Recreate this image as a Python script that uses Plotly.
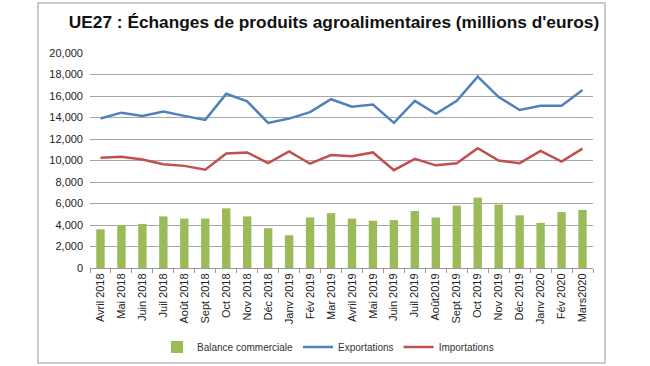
import plotly.graph_objects as go

months = ["Avril 2018", "Mai 2018", "Juin 2018", "Juil 2018", "Août 2018", "Sept 2018",
          "Oct 2018", "Nov 2018", "Déc 2018", "Janv 2019", "Fév 2019", "Mar 2019",
          "Avril 2019", "Mai 2019", "Juin 2019", "Juil 2019", "Août2019", "Sept 2019",
          "Oct 2019", "Nov 2019", "Déc 2019", "Janv 2020", "Fév 2020", "Mars2020"]

balance = [3600, 4000, 4100, 4800, 4600, 4600, 5550, 4800, 3700, 3050, 4700, 5100,
           4600, 4400, 4450, 5300, 4700, 5800, 6550, 5900, 4900, 4200, 5200, 5400]

exportations = [13900, 14450, 14150, 14550, 14150, 13780, 16200, 15500, 13500, 13900, 14500, 15700,
                15000, 15200, 13500, 15550, 14350, 15550, 17800, 15900, 14700, 15100, 15100, 16550]

importations = [10250, 10350, 10100, 9650, 9500, 9150, 10650, 10750, 9750, 10850, 9700, 10500,
                10400, 10750, 9100, 10150, 9550, 9750, 11150, 10000, 9750, 10900, 9900, 11100]

W, H = 650, 366
L, R, T, B = 90, 593, 53, 268

def px_x(p):
    return (p - L) / (R - L)

def px_y(p):
    return (B - p) / (B - T)

fig = go.Figure()
fig.add_trace(go.Bar(x=months, y=balance, name="Balance commerciale",
                     marker=dict(color="#9BBB59", line=dict(width=0))))
fig.add_trace(go.Scatter(x=months, y=exportations, name="Exportations", mode="lines",
                         line=dict(color="#4F81BD", width=2.5)))
fig.add_trace(go.Scatter(x=months, y=importations, name="Importations", mode="lines",
                         line=dict(color="#C0504D", width=2.5)))

fig.update_layout(
    width=W, height=H,
    margin=dict(l=L, r=W - R, t=T, b=H - B, autoexpand=False),
    paper_bgcolor="white", plot_bgcolor="white",
    font=dict(family="Liberation Sans, Arial, sans-serif", color="#222", size=11),
    title=dict(text="<b>UE27 : Échanges de produits agroalimentaires (millions d'euros)</b>",
               x=334 / W, xref="container", xanchor="center",
               y=1 - 22 / H, yref="container", yanchor="middle",
               font=dict(size=17.3, color="#111")),
    bargap=0.6,
    showlegend=True,
    legend=dict(orientation="h", x=px_x(328), xanchor="center", y=px_y(347), yanchor="middle",
                font=dict(size=10, color="#333"), itemwidth=30, tracegroupgap=0,
                bgcolor="rgba(0,0,0,0)"),
    shapes=[dict(type="rect", xref="paper", yref="paper",
                 x0=px_x(38), x1=px_x(605), y0=px_y(363), y1=px_y(3),
                 line=dict(color="#BBBBBB", width=1.5), fillcolor="rgba(0,0,0,0)", layer="below")],
)

fig.update_xaxes(type="category", tickangle=-90, showline=True, linecolor="#999", linewidth=1,
                 ticks="outside", tickson="boundaries", ticklen=4, tickcolor="#999",
                 showgrid=False, tickfont=dict(size=11, color="#222"))
fig.update_yaxes(range=[0, 20000], dtick=2000, tickformat=",", showgrid=True,
                 gridcolor="#A6A6A6", gridwidth=1, zeroline=False, showline=False,
                 ticklabelstandoff=6, tickfont=dict(size=11, color="#222"))

fig.write_html("out.html", config={"displayModeBar": False},
               post_script="document.body.style.margin='0';")
